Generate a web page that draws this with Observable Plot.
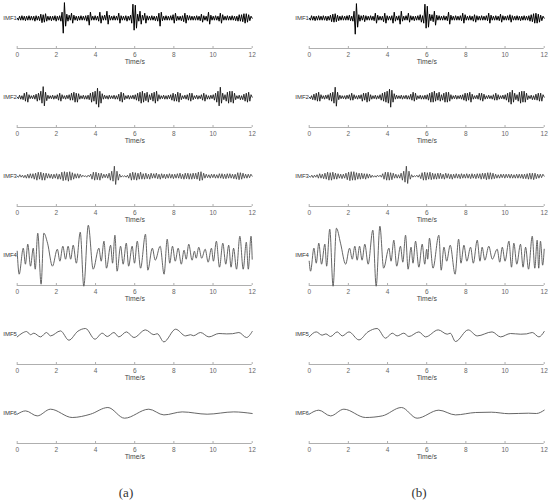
<!DOCTYPE html>
<html>
<head>
<meta charset="utf-8">
<script src="https://cdn.jsdelivr.net/npm/d3@7"></script>
<script src="https://cdn.jsdelivr.net/npm/@observablehq/plot@0.6"></script>
<style>
  html, body { margin: 0; padding: 0; background: #fff; }
  #chart { position: relative; width: 550px; height: 503px; overflow: hidden; background: #fff; }
  .tag { position: absolute; transform: translate(-50%, -50%); font-family: "Liberation Serif", "Times New Roman", serif; font-size: 13px; color: #333; }
</style>
</head>
<body>
<div id="chart"></div>
<script>
// ---- tick labels / texts ----
const xTicks = [0, 2, 4, 6, 8, 10, 12];
const imfLabels = ["IMF1", "IMF2", "IMF3", "IMF4", "IMF5", "IMF6"];
const axisTitle = "Time/s";
const panelTags = ["(a)", "(b)"];

// ---- IMF1 (uniformly sampled over 0..12 s) ----
const imf1a = [
 0,-2,2,-2,2.5,-2,2,-2.5,2,-2, 2.5,-2,2,-2,2,-3,2.5,-2,2,-2.5,
 4,-4.5,3.5,-4,4.5,-3,2,-2,2,-2.5, 2,-2,2.5,-3,2,-2,2.5,-3,6,-15,
 15.6,-8,4,-3,3,-2,5,-5,3,-2, 2,-2.5,2,-2,2.5,-2,2,-2,2.5,-3,
 3,-7,6,-2,2,-2,2.5,-2,2,-3, 6,-5,2.5,-2,3,-2,7,-6,3,-2,
 2,-2,2.5,-2,2,-2,5,-5,2.5,-2, 2,-2,2.5,-3,2,-2,3,-5,14,-12,
 13,-10,4,-3,7,-6,3,-2,5,-5, 2.5,-2,2,-2,2.5,-2,2,-2.5,2,-3,
 5,-8,6,-2.5,2,-2,2.5,-2,2,-2, 2.5,-2,3.5,-5,5,-2.5,2,-2,2,-2.5,
 2.5,-3.5,5,-5,3,-2,2.5,-2,2,-2, 2,-2,2.5,-2,2,-2.5,4,-4,2.5,-2,
 2,-3,6,-6,3,-2,2,-2,2.5,-2, 2,-3,5,-5,3.5,-2,2,-2,2.5,-2,
 2,-2,2.5,-2,2,-2.5,2,-3,3.5,-3, 3.5,-3.5,4.5,-5,4.5,-4,3.5,-2.5,2,0
];
const imf1b = [
 0,-2,2.5,-2,2,-2.5,2,-2,2.5,-2, 2,-2,2.5,-2,2,-2.5,2,-2,3,-3.5,
 4,-4,4.5,-3.5,3,-2.5,2,-2,2.5,-2, 2,-2,2.5,-2,3,-2.5,2,-3,7,-16,
 14.6,-9,3.5,-3,2.5,-2,3,-3.5,2.5,-2, 2,-2,2.5,-2,2,-2.5,5,-5,3,-2,
 2,-2,2,-3.5,5,-5,2.5,-2,2,-2, 2.5,-5,6,-3,2,-2,2.5,-6,7,-3,
 2,-2,2.5,-2,5,-4,2.5,-2,2,-2.5, 2,-2,2.5,-2,3.5,-4,2.5,-5,14,-10,
 12,-9,4,-2.5,3.5,-3.5,7,-7,3,-2, 2.5,-2,2,-2,2.5,-2,2,-2.5,6,-6,
 3,-2,2,-2,2.5,-2,2,-2,2.5,-2.5, 5,-5,3.5,-2,2,-2,2.5,-2,2,-3,
 3.5,-4,2.5,-2,2,-2,2.5,-2,2,-2, 2.5,-2.5,5,-5,3,-2,2,-2,2.5,-2,
 2,-2.5,4,-4,2.5,-2,2,-2,2.5,-2, 3.5,-4,2.5,-2,2,-2,2.5,-2,2,-2.5,
 2,-2,2.5,-2,2,-2,2.5,-3,3.5,-3.5, 4.5,-5,5,-5,4,-4,3,-2.5,2,0
];

// ---- IMF2 ----
const imf2a = [
 0,-1.5,2,-2,1.5,-2.5,4,-4,5,-5, 2.5,-1.5,1.5,-1.5,2,-2,3,-4,4,-3,
 6,-6,10.6,-8.7,5,-3.5,2,-1.5,1.5,-1.5, 2,-2,1.5,-1.5,2.5,-3,4,-4,2.5,-1.5,
 1.5,-2,2,-1.5,2.5,-3,4,-3,5,-5, 4,-5,3.5,-2,1.5,-1.5,2,-2,1.5,-2,
 2,-2.5,4,-5,5,-4,6,-7,9,-10, 6,-6,3.5,-2,2,-1.5,1.5,-2,2,-1.5,
 1.5,-1.5,2,-2,1.5,-2,3,-4,5,-5, 4,-2.5,1.5,-1.5,2,-2,1.5,-1.5,2,-2,
 2.5,-3,4,-4,5,-6,6,-5,4,-3.5, 5,-5,2.5,-2.5,4,-4,5,-6,6,-4,
 2.5,-2,1.5,-1.5,2,-2,1.5,-2,2,-1.5, 2.5,-3,4,-4,3,-4,5,-5,4,-2.5,
 1.5,-1.5,2,-2,2.5,-3,4,-4,4,-2.5, 1.5,-1.5,2,-2,1.5,-1.5,2.5,-3,4,-4,
 2.5,-2,1.5,-2,2,-1.5,2.5,-3,4,-5, 6,-8.7,10,-6,4,-2.5,2.5,-4,5,-6,
 6,-5,6,-6,4,-2.5,1.5,-1.5,2,-2.5, 1.5,-2.5,3,-4,4,-5,5,-4,2.5,0
];
const imf2b = [
 0,-1.5,1.5,-2.5,3,-3,4,-4,5,-4, 2.5,-1.5,1.5,-2,2,-1.5,2.5,-3,4,-4,
 5,-6,10,-9,5,-2.5,2,-1.5,1.5,-1.5, 1.5,-2,2,-1.5,2.5,-3,4,-3,2.5,-1.5,
 1.5,-2,2,-1.5,2.5,-4,4,-3,4,-5, 5,-4,2.5,-2,1.5,-1.5,2,-2,1.5,-1.5,
 2.5,-3,4,-4,5,-5,6,-6,8,-10, 7,-5,3.5,-2,2,-1.5,1.5,-1.5,2,-2,
 1.5,-1.5,2,-2,1.5,-2,3,-3,5,-4, 4,-2.5,1.5,-1.5,2,-2,1.5,-2,2,-2,
 2.5,-3,4,-5,5,-5,6,-4,4,-3, 5,-4,2.5,-3,4,-5,5,-5,5,-4,
 2.5,-2,1.5,-1.5,2,-2,1.5,-1.5,2,-2, 2.5,-3,4,-4,4,-3,5,-5,3,-2,
 1.5,-1.5,2,-2,4,-3,4,-4,3,-2, 1.5,-1.5,2,-1.5,1.5,-2,2.5,-3,4,-3,
 2.5,-2,1.5,-1.5,2,-2,2.5,-3,4,-5, 5,-7,7,-5,4,-2.5,2.5,-4,5,-6,
 6,-5,6,-5,4,-2.5,1.5,-1.5,2,-2.5, 1.5,-2.5,3,-3,4,-4,4,-4,2.5,0
];

// ---- IMF3 ----
const imf3a = [
 0,-1,1.5,-1,1,-1.5,1,-2,2,-2, 2.5,-2,2.5,-3,3,-4,4,-3,4,-4,
 3,-4,3,-2,2.5,-2,2,-2.5,2,-2, 2.5,-3,2,-3,4,-4.5,4.5,-4,4,-5,
 4.5,-4,3.5,-3,2.5,-2,2.5,-2,2,-1, 1,-0.5,0.5,-1,1,-0.5,2,-3,4,-4,
 4,-3.5,3,-4,3,-2,2,-1.5,2,-2, 3,-4,5,-5,10,-8.3,5,-4,2,-1,
 0.5,-0.5,0.5,-1,1,-2,3,-4,4,-3.5, 3.5,-4,3,-3,4,-3,2.5,-3,3,-2.5,
 2,-3,3,-2,2.5,-2,3,-2.5,2,-3, 2.5,-2,2,-2.5,2,-2,2.5,-2,2,-2.5,
 2,-2,2.5,-2,3,-2.5,2,-3,3,-2.5, 3,-3,2.5,-3,3,-2.5,3,-3,4,-4.5,
 4.5,-4,3,-2,2,-1.5,1.5,-2,2,-1.5, 2,-2,1.5,-2,2.5,-2,2.5,-2.5,2,-2.5,
 2.5,-2,2.5,-2,2,-2.5,2,-3,3.5,-3.5, 3.5,-3,3,-2,2,-2,2,-1.5,2,0
];
const imf3b = [
 0,-1,1,-1.5,1,-1,1.5,-2,2.5,-2, 2,-2.5,3,-3,4,-4,3.5,-4,4,-3,
 3,-3,2.5,-2,2,-2.5,2,-2,3,-3.5, 4,-4.5,4.5,-4,4.5,-4,3.5,-3,3,-3,
 3,-2.5,2.5,-3,2.5,-2,2,-1.5,1,-1, 0.5,-1,1,-0.5,1,-1,2.5,-3,4,-4,
 4,-4,3.5,-3.5,3,-2,2,-2,1.5,-2, 3,-4,5,-6,10,-7.3,5,-3,1.5,-1,
 0.5,-0.5,1,-1,1.5,-2.5,3.5,-4,4,-4, 3.5,-3,4,-3.5,3,-3,2.5,-3,3,-2.5,
 3,-2.5,2,-3,3,-2,2.5,-2.5,2,-3, 2,-2,2.5,-2,2,-2.5,2.5,-2,2,-2,
 2.5,-2,2,-2.5,2.5,-2,2,-2.5,2.5,-2, 2.5,-3,3,-2.5,3,-3.5,3.5,-3,3.5,-3,
 3,-2.5,2,-2,1.5,-2,2,-1.5,2,-2, 2,-1.5,2,-2,2,-2,1.5,-2,2,-2,
 2,-2,2,-2.5,2,-2.5,2.5,-3,3,-3, 3,-3.5,3,-2.5,2,-2,2,-1.5,2,0
];

// ---- IMF4 (turning points: [time s, value]) ----
const imf4a = [[0,4],[0.1,-19],[0.31,7],[0.42,-9],[0.54,11],[0.68,-11],[0.82,7],[0.92,-14],[1.05,22],[1.22,-29],[1.36,22],[1.55,12],[1.8,-11],[2.05,6],[2.18,-6],[2.33,9],[2.47,-4],[2.6,9],[2.73,-4],[2.86,10],[3.02,-8],[3.22,23],[3.4,-31],[3.63,30],[3.88,-14],[4.17,7],[4.29,-6],[4.43,14],[4.56,-13],[4.77,10],[4.87,-8],[4.99,20],[5.1,-16],[5.28,9],[5.41,-9],[5.57,12],[5.69,-11],[5.87,9],[5.99,-8],[6.13,14],[6.3,-13],[6.55,21],[6.67,-15],[6.9,7],[7.05,-5],[7.3,9],[7.5,-19],[7.66,16],[7.79,-8],[7.93,9],[8.07,-6],[8.22,7],[8.38,-9],[8.52,5],[8.63,-4],[8.76,11],[8.93,-5],[9.05,4],[9.14,-3],[9.27,8],[9.42,-3],[9.6,6],[9.75,-7],[9.92,7],[10.02,-6],[10.17,14],[10.33,-12],[10.5,12],[10.65,-9],[10.8,10],[10.92,-12],[11.05,7],[11.2,-14],[11.37,19],[11.54,-14],[11.7,13],[11.8,-14],[11.94,19],[12,-4]];
const imf4b = [[0,-6],[0.07,-16],[0.24,7],[0.36,-8],[0.49,12],[0.63,-9],[0.8,11],[0.89,-11],[1.05,26],[1.22,-31],[1.39,27],[1.6,12],[1.86,-9],[2.06,7],[2.2,-4],[2.33,9],[2.45,-5],[2.57,9],[2.7,-5],[2.84,11],[3.01,-9],[3.25,25],[3.42,-31],[3.61,29],[3.8,-13],[4.07,7],[4.18,-6],[4.32,15],[4.47,-11],[4.66,9],[4.78,-7],[4.92,20],[5.05,-14],[5.2,8],[5.3,-8],[5.43,14],[5.6,-12],[5.77,11],[5.9,-9],[6.0,6],[6.05,-4],[6.14,17],[6.32,-13],[6.62,20],[6.74,-15],[6.88,8],[7.02,-6],[7.2,10],[7.45,-19],[7.63,16],[7.75,-8],[7.9,10],[8.05,-6],[8.24,8],[8.38,-8],[8.58,15],[8.72,-6],[8.83,8],[8.97,-5],[9.17,9],[9.35,-4],[9.6,6],[9.73,-7],[9.86,8],[10.0,-6],[10.2,14],[10.33,-12],[10.45,12],[10.6,-9],[10.79,11],[10.92,-12],[11.05,8],[11.2,-14],[11.39,19],[11.52,-13],[11.64,15],[11.72,-13],[11.81,14],[11.92,-10],[12,6]];

// ---- IMF5 ----
const imf5a = [[0,-2.7],[0.25,1],[0.48,2.7],[0.68,-0.5],[0.85,1],[1.19,-2.7],[1.5,1.7],[1.7,-1.7],[2.21,3.3],[2.64,-6],[3.1,3],[3.49,5.7],[3.97,-5],[4.34,1],[4.6,-2.3],[4.94,1.7],[5.19,-2.7],[5.58,2.3],[5.96,-3.3],[6.55,4.3],[6.98,-0.5],[7.15,0.5],[7.49,-7.7],[8.09,5],[8.6,-1.7],[8.85,-0.5],[9.0,-1.5],[9.36,1.7],[9.79,-2.7],[10.3,0.7],[10.7,0.3],[11.0,0.5],[11.32,1.7],[11.71,-3.3],[12,2.7]];
const imf5b = [[0,-2.7],[0.36,2.3],[0.66,-1],[0.85,0.3],[1.09,-2.3],[1.43,2.3],[1.69,-1.7],[2.03,2.3],[2.54,-5.7],[3.0,2.3],[3.47,5.7],[3.9,-4],[4.24,1],[4.49,-1.7],[4.83,1],[5.09,-2.3],[5.6,2.3],[5.94,-2.7],[6.59,4.3],[7.05,0],[7.2,1],[7.47,-7.3],[8.12,4.3],[8.58,-1.7],[9.34,2.3],[9.77,-2.7],[10.28,0.7],[10.8,0],[11.1,0.3],[11.39,1.7],[11.73,-2.7],[12,2.7]];

// ---- IMF6 ----
const imf6a = [[0,-1],[0.43,2.3],[1.02,-2.7],[1.7,4],[2.81,-4.3],[3.74,-1],[4.63,5.7],[5.48,-5],[6.72,4],[7.49,-1.7],[8.43,1.3],[9.7,-1],[11.06,1.3],[12,-0.3]];
const imf6b = [[0,-1],[0.49,3],[1.09,-2.7],[1.77,4],[2.88,-4.3],[3.73,-2.7],[4.71,5.7],[5.51,-5],[6.62,3],[7.47,-1.7],[8.5,0.7],[9.3,1],[10.2,-0.5],[11.2,0],[11.6,-0.3],[12,3]];

const columns = [
  [imf1a, imf2a, imf3a, imf4a, imf5a, imf6a],
  [imf1b, imf2b, imf3b, imf4b, imf5b, imf6b]
];

// ---- presentation ----
const rowStroke = ["#000", "#111", "#333", "#555", "#555", "#555"];
const rowWidth = [1.0, 0.85, 0.75, 0.9, 0.9, 0.9];
const rowCurve = ["linear", "linear", "linear", "monotone-x", "monotone-x", "monotone-x"];
const yDomain = [-30.3, 31.7];
const font = '"Liberation Sans", Arial, sans-serif';

function toRows(s) {
  return Array.isArray(s[0])
    ? s.map(([t, v]) => ({t, v}))
    : s.map((v, i) => ({t: i * 12 / (s.length - 1), v}));
}

const chart = document.getElementById("chart");
columns.forEach((series, col) => {
  series.forEach((s, row) => {
    const svg = Plot.plot({
      width: 262, height: 80,
      marginLeft: 16.7, marginRight: 10.3, marginTop: 0, marginBottom: 18,
      x: {domain: [0, 12]},
      y: {domain: yDomain, axis: null},
      style: {background: "transparent", overflow: "visible", fontFamily: font},
      marks: [
        Plot.ruleY([yDomain[0]], {stroke: "#9a9a9a", strokeWidth: 0.8}),
        Plot.ruleX(xTicks, {y1: yDomain[0], y2: yDomain[0] + 2, stroke: "#9a9a9a", strokeWidth: 0.8}),
        Plot.axisX(xTicks, {tickSize: 0, tickPadding: 3.5, fontSize: 6.5, fill: "#666", label: null}),
        Plot.line(toRows(s), {x: "t", y: "v", curve: rowCurve[row], stroke: rowStroke[row], strokeWidth: rowWidth[row]}),
        Plot.text([imfLabels[row]], {text: d => d, frameAnchor: "left", y: 0, textAnchor: "end", dx: -0.3, fontSize: 6, fill: "#333"}),
        Plot.text([axisTitle], {text: d => d, frameAnchor: "bottom", dy: 15.3, fontSize: 6.8, fill: "#444"})
      ]
    });
    svg.style.position = "absolute";
    svg.style.left = (col * 292) + "px";
    svg.style.top = (47.7 + 79 * row - 62) + "px";
    chart.appendChild(svg);
  });
});

panelTags.forEach((tag, i) => {
  const d = document.createElement("div");
  d.className = "tag";
  d.textContent = tag;
  d.style.left = (126 + 293 * i) + "px";
  d.style.top = "493px";
  chart.appendChild(d);
});
</script>
</body>
</html>
